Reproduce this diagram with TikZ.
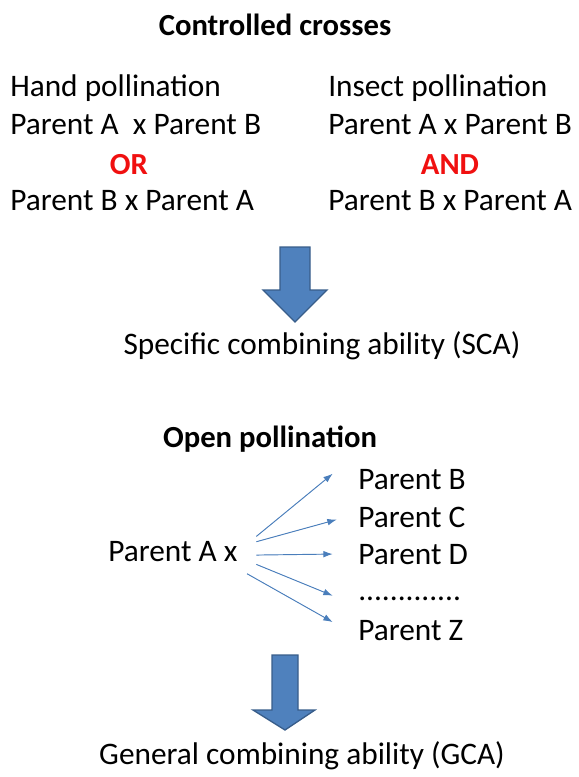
\documentclass[tikz,border=0pt]{standalone}
\usepackage{fontspec}
\setmainfont{Carlito}
\usetikzlibrary{arrows.meta}
\definecolor{arrowblue}{HTML}{4F81BD}
\definecolor{arrowedge}{HTML}{385D8A}
\definecolor{fanblue}{HTML}{4A7EBB}
\definecolor{wordred}{HTML}{F01010}
\tikzset{
    txt/.style = {inner sep=0pt, anchor=base west, font=\fontsize{23.5}{28}\selectfont},
    txtc/.style = {inner sep=0pt, anchor=base, font=\fontsize{23.5}{28}\selectfont},
    hdr/.style = {inner sep=0pt, anchor=base, font=\fontsize{23}{28}\selectfont\bfseries},
    keyword/.style = {inner sep=0pt, anchor=base, text=wordred, font=\fontsize{23}{28}\selectfont\bfseries},
    blockarrow/.style = {fill=arrowblue, draw=arrowedge, line width=1pt, line join=miter},
    fanarrow/.style = {-{Latex[length=7pt,width=5pt]}, draw=fanblue, fill=fanblue, line width=0.7pt}
}
\begin{document}
\begin{tikzpicture}[x=0.75pt,y=-0.75pt]
  \useasboundingbox (0,0) rectangle (578,777);

  % controlled crosses
  \node[hdr] (cc) at (275,36) {Controlled crosses};
  \node[txt] (hp)  at (10,97)  {Hand pollination};
  \node[txt] (hab) at (10,135) {Parent A\ \ x Parent B};
  \node[keyword] (or) at (129,175) {OR};
  \node[txt] (hba) at (10,211) {Parent B x Parent A};
  \node[txt] (ip)  at (328,97)  {Insect pollination};
  \node[txt] (iab) at (328,135) {Parent A x Parent B};
  \node[keyword] (and) at (450,175) {AND};
  \node[txt] (iba) at (328,211) {Parent B x Parent A};

  \draw[blockarrow] (280,247) -- (310,247) -- (310,290) -- (327,290) -- (295,322)
    -- (263,290) -- (280,290) -- cycle;

  \node[txtc] (sca) at (322,354) {Specific combining ability (SCA)};

  % open pollination
  \node[hdr] (op) at (270,447) {Open pollination};
  \node[txt] (pa) at (108,561) {Parent A x};
  \node[txt] (pb) at (358,489) {Parent B};
  \node[txt] (pc) at (358,527) {Parent C};
  \node[txt] (pd) at (358,564) {Parent D};
  \node[txt] (px) at (358,600) {.............};
  \node[txt] (pz) at (358,640) {Parent Z};

  \draw[fanarrow] ([xshift=14pt,yshift=11pt]pa.east) -- ([xshift=-19pt,yshift=4pt]pb.west);
  \draw[fanarrow] ([xshift=14pt,yshift=7pt]pa.east) -- ([xshift=-16pt,yshift=-2pt]pc.west);
  \draw[fanarrow] ([xshift=14pt,yshift=-3pt]pa.east) -- ([xshift=-19pt,yshift=0pt]pd.west);
  \draw[fanarrow] ([xshift=14pt,yshift=-10pt]pa.east) -- ([xshift=-19pt,yshift=2pt]px.west);
  \draw[fanarrow] ([xshift=7pt,yshift=-17pt]pa.east) -- ([xshift=-19pt,yshift=6pt]pz.west);

  \draw[blockarrow] (272,655) -- (298,655) -- (298,710) -- (315,710) -- (285,730)
    -- (253,710) -- (272,710) -- cycle;

  \node[txtc] (gca) at (302,764) {General combining ability (GCA)};
\end{tikzpicture}
\end{document}
